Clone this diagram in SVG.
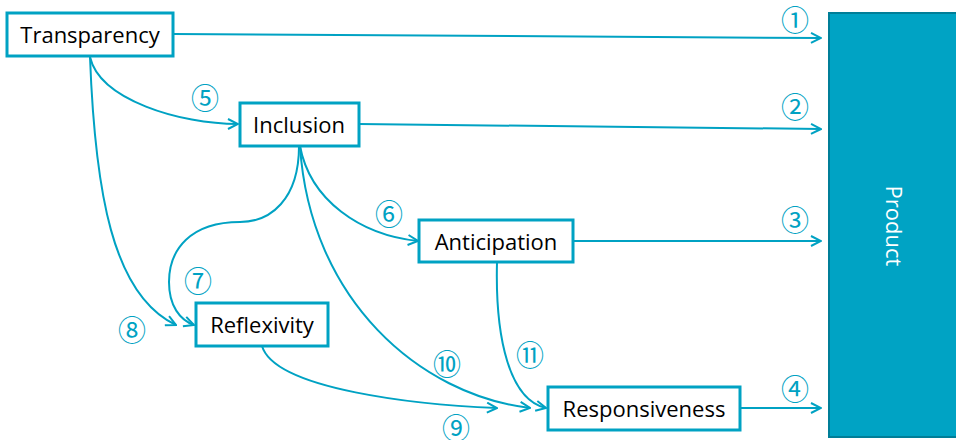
<svg xmlns="http://www.w3.org/2000/svg" width="956" height="440" viewBox="0 0 956 440">
  <style>
    .box { fill: #ffffff; stroke: #00A2C3; stroke-width: 3; }
    .lbl { font-family: "Open Sans", "Noto Sans", sans-serif; font-size: 22px; fill: #000000; text-anchor: middle; dominant-baseline: central; }
    .edge { fill: none; stroke: #00A2C3; stroke-width: 2; }
    .num { font-family: "Noto Sans CJK JP", "DejaVu Sans", sans-serif; font-size: 28px; fill: #00A2C3; text-anchor: middle; dominant-baseline: central; }
  </style>
  <defs>
    <marker id="arrow" viewBox="0 0 12 12" refX="11" refY="6" markerWidth="12" markerHeight="12" markerUnits="userSpaceOnUse" orient="auto">
      <path d="M1,1 L11,6 L1,11" fill="none" stroke="#00A2C3" stroke-width="2"/>
    </marker>
  </defs>

  <rect width="956" height="440" fill="#ffffff"/>

  <!-- product bar -->
  <g id="product">
    <rect x="829" y="13" width="140" height="424" fill="#00A3C4" stroke="#007E98" stroke-width="2"/>
    <text x="895" y="226" transform="rotate(90 895 226)" class="lbl" style="fill:#ffffff">Product</text>
  </g>

  <!-- connectors -->
  <g id="connectors">
    <path class="edge" marker-end="url(#arrow)" d="M173,34 L821,38"/>
    <path class="edge" marker-end="url(#arrow)" d="M359,124 L821,129"/>
    <path class="edge" marker-end="url(#arrow)" d="M573,241 L821,241"/>
    <path class="edge" marker-end="url(#arrow)" d="M740,408 L821,408"/>
    <path class="edge" marker-end="url(#arrow)" d="M90,57 C100,100 180,124 238,124"/>
    <path class="edge" marker-end="url(#arrow)" d="M90,57 C95,190 112,295 176,325"/>
    <path class="edge" marker-end="url(#arrow)" d="M299,146 C299,200 270,222 240,222 C190,222 169,250 169,282 C169,306 180,320 194,325"/>
    <path class="edge" marker-end="url(#arrow)" d="M300,146 C310,200 360,235 418,241"/>
    <path class="edge" marker-end="url(#arrow)" d="M300,146 C310,300 420,395 530,408"/>
    <path class="edge" marker-end="url(#arrow)" d="M262,346 C275,390 420,405 497,408"/>
    <path class="edge" marker-end="url(#arrow)" d="M497,262 C495,340 510,400 546,408"/>
  </g>

  <g id="edge-labels">
    <text class="num" x="795" y="19">①</text>
    <text class="num" x="795" y="106">②</text>
    <text class="num" x="795" y="219">③</text>
    <text class="num" x="795" y="388">④</text>
    <text class="num" x="205" y="97">⑤</text>
    <text class="num" x="389" y="213">⑥</text>
    <text class="num" x="198" y="280">⑦</text>
    <text class="num" x="132" y="329">⑧</text>
    <text class="num" x="456" y="427">⑨</text>
    <text class="num" x="447" y="363">⑩</text>
    <text class="num" x="530" y="354">⑪</text>
  </g>

  <g id="transparency">
    <rect class="box" x="7" y="13" width="166" height="43"/>
    <text class="lbl" x="90" y="34">Transparency</text>
  </g>
  <g id="inclusion">
    <rect class="box" x="240" y="103" width="119" height="43"/>
    <text class="lbl" x="299" y="124">Inclusion</text>
  </g>
  <g id="anticipation">
    <rect class="box" x="419" y="220" width="154" height="42"/>
    <text class="lbl" x="496" y="241">Anticipation</text>
  </g>
  <g id="reflexivity">
    <rect class="box" x="196" y="303" width="132" height="43"/>
    <text class="lbl" x="262" y="324">Reflexivity</text>
  </g>
  <g id="responsiveness">
    <rect class="box" x="548" y="387" width="192" height="43"/>
    <text class="lbl" x="644" y="408">Responsiveness</text>
  </g>
</svg>
